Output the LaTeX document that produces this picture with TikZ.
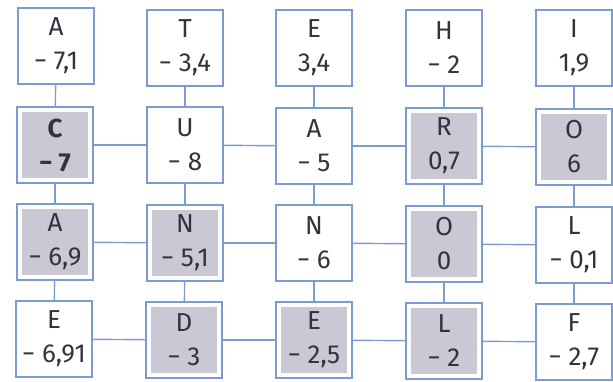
\documentclass[tikz,border=0pt]{standalone}
\usepackage{fontspec}
\setmainfont{Fira Sans}
\definecolor{gridblue}{HTML}{7B9BD2}
\definecolor{cellgray}{HTML}{C9C8D4}
\definecolor{txtgray}{HTML}{33333F}
\tikzset{
  cell/.style={draw=gridblue, line width=1.4pt, fill=white, minimum width=76pt,
    minimum height=76pt, inner sep=0pt, align=center, text=txtgray,
    font=\fontsize{26}{34}\selectfont},
  shaded/.style={cell, path picture={
    \fill[cellgray] ([shift={(5pt,5pt)}]path picture bounding box.south west)
      rectangle ([shift={(-5pt,-5pt)}]path picture bounding box.north east);}},
  link/.style={draw=gridblue, line width=1.4pt}
}
\begin{document}
\begin{tikzpicture}[x=1pt,y=-1pt]
\useasboundingbox (0,0) rectangle (613,381);

% top row
\node[cell] (n01) at (56,46) {A\\− 7,1};
\node[cell] (n02) at (185,48) {T\\− 3,4};
\node[cell] (n03) at (314,48) {E\\3,4};
\node[cell] (n04) at (444,48) {H\\− 2};
\node[cell] (n05) at (574,48) {I\\1,9};

\node[shaded, font=\fontsize{26}{34}\selectfont\bfseries] (n11) at (55,145) {C\\− 7};
\node[cell] (n12) at (185,145) {U\\− 8};
\node[cell] (n13) at (314,146) {A\\− 5};
\node[shaded] (n14) at (444,146) {R\\0,7};
\node[shaded] (n15) at (574,147) {O\\6};

\node[shaded] (n21) at (55,242) {A\\− 6,9};
\node[shaded] (n22) at (185,243) {N\\− 5,1};
\node[cell] (n23) at (314,243) {N\\− 6};
\node[shaded] (n24) at (444,244) {O\\0};
\node[cell] (n25) at (574,245) {L\\− 0,1};

\node[cell] (n31) at (54,339) {E\\− 6,91};
\node[shaded] (n32) at (184,340) {D\\− 3};
\node[shaded] (n33) at (314,340) {E\\− 2,5};
\node[shaded] (n34) at (444,341) {L\\− 2};
\node[cell] (n35) at (574,342) {F\\− 2,7};

% links
\foreach \c in {1,...,5} {
  \draw[link] (n0\c) -- (n1\c);
  \draw[link] (n1\c) -- (n2\c);
  \draw[link] (n2\c) -- (n3\c);
}
\foreach \r in {1,2,3} {
  \draw[link] (n\r1) -- (n\r2);
  \draw[link] (n\r2) -- (n\r3);
  \draw[link] (n\r3) -- (n\r4);
  \draw[link] (n\r4) -- (n\r5);
}
\end{tikzpicture}
\end{document}
